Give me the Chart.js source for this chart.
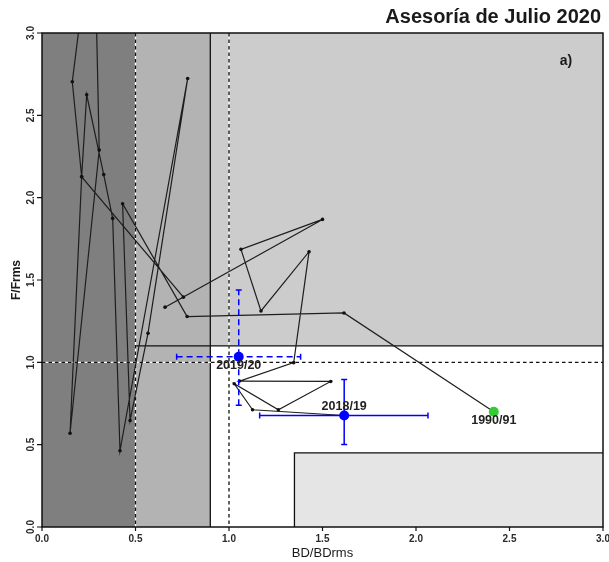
<!DOCTYPE html>
<html><head><meta charset="utf-8">
<script src="https://cdn.jsdelivr.net/npm/chart.js@4.4.0/dist/chart.umd.min.js"></script>
<style>html,body{margin:0;padding:0;background:#fff;}canvas{display:block;}</style>
</head><body>
<canvas id="c" width="609" height="562"></canvas>
<script>
// Trajectory (BD/BDrms, F/Frms), 1990/91 onward
const trajX = [2.416, 1.615, 0.776, 0.431, 0.471, 0.567, 0.779, 0.417, 0.378, 0.330, 0.239, 0.212, 0.162, 0.278, 0.306, 0.150, 0.212, 0.756, 0.658, 1.500, 1.064, 1.171, 1.428, 1.346, 1.056, 1.544, 1.264, 1.028, 1.126, 1.616];
const trajY = [0.700, 1.300, 1.278, 1.963, 0.647, 1.177, 2.724, 0.463, 1.874, 2.140, 2.625, 2.127, 2.704, 3.760, 2.289, 0.569, 2.127, 1.396, 1.335, 1.868, 1.686, 1.312, 1.672, 0.998, 0.886, 0.884, 0.712, 0.870, 0.712, 0.677];

// Highlighted points
const markLabels = ['2019/20', '2018/19', '1990/91'];
const markX = [1.052, 1.616, 2.416];
const markY = [1.034, 0.677, 0.700];

// Uncertainty bars (2019/20 dashed, 2018/19 solid)
const errXLow = [0.720, 1.164];
const errXHigh = [1.383, 2.064];
const errYLow = [0.740, 0.501];
const errYHigh = [1.440, 0.895];

// Axis ticks
const tickValues = [0, 0.5, 1.0, 1.5, 2.0, 2.5, 3.0];
const tickLabels = ['0.0', '0.5', '1.0', '1.5', '2.0', '2.5', '3.0'];

// Reference points / zone limits
const bdLim = 0.5, bdTh = 0.9, bdRef = 1.0, fRef = 1.0, fTh = 1.1, boxBd = 1.35, boxF = 0.45;

const FONT = '"Liberation Sans", Arial, sans-serif';

const kobePlugin = {
  id: 'kobe',
  beforeDatasetsDraw(chart) {
    const {ctx, chartArea: a, scales: {x, y}} = chart;
    const px = v => x.getPixelForValue(v), py = v => y.getPixelForValue(v);
    ctx.save();
    // background
    ctx.fillStyle = '#ffffff';
    ctx.fillRect(a.left, a.top, a.right - a.left, a.bottom - a.top);
    ctx.fillStyle = '#cccccc';
    ctx.fillRect(px(bdTh), a.top, a.right - px(bdTh), py(fTh) - a.top);
    ctx.fillStyle = '#e5e5e5';
    ctx.fillRect(px(boxBd), py(boxF), a.right - px(boxBd), a.bottom - py(boxF));
    ctx.fillStyle = '#b3b3b3';
    ctx.fillRect(px(bdLim), a.top, px(bdTh) - px(bdLim), a.bottom - a.top);
    ctx.fillStyle = '#7f7f7f';
    ctx.fillRect(a.left, a.top, px(bdLim) - a.left, a.bottom - a.top);
    // region borders
    ctx.strokeStyle = '#111';
    ctx.lineWidth = 1.3;
    ctx.beginPath();
    ctx.moveTo(px(bdTh), a.top); ctx.lineTo(px(bdTh), a.bottom);
    ctx.moveTo(px(bdLim), py(fTh)); ctx.lineTo(a.right, py(fTh));
    ctx.moveTo(px(boxBd), a.bottom); ctx.lineTo(px(boxBd), py(boxF)); ctx.lineTo(a.right, py(boxF));
    ctx.stroke();
    // dashed reference lines (white base + black dashes)
    const dashed = (x1, y1, x2, y2) => {
      ctx.setLineDash([]);
      ctx.strokeStyle = '#ffffff'; ctx.lineWidth = 1.3;
      ctx.beginPath(); ctx.moveTo(x1, y1); ctx.lineTo(x2, y2); ctx.stroke();
      ctx.setLineDash([3.5, 3]);
      ctx.strokeStyle = '#111';
      ctx.beginPath(); ctx.moveTo(x1, y1); ctx.lineTo(x2, y2); ctx.stroke();
      ctx.setLineDash([]);
    };
    dashed(px(bdLim), a.top, px(bdLim), a.bottom);
    dashed(px(bdRef), a.top, px(bdRef), a.bottom);
    dashed(a.left, py(fRef), a.right, py(fRef));
    ctx.restore();
  },
  afterDatasetDraw(chart, args) {
    if (args.index !== 3) return;
    const {ctx, scales: {x, y}} = chart;
    const px = v => x.getPixelForValue(v), py = v => y.getPixelForValue(v);
    ctx.save();
    ctx.strokeStyle = '#0000ff';
    ctx.lineWidth = 1.5;
    const cap = 3;
    for (let i = 0; i < errXLow.length; i++) {
      ctx.setLineDash(i === 0 ? [6, 4] : []);
      const cx = px(markX[i]), cy = py(markY[i]);
      ctx.beginPath();
      ctx.moveTo(px(errXLow[i]), cy); ctx.lineTo(px(errXHigh[i]), cy);
      ctx.moveTo(cx, py(errYLow[i])); ctx.lineTo(cx, py(errYHigh[i]));
      ctx.stroke();
      ctx.setLineDash([]);
      ctx.beginPath();
      ctx.moveTo(px(errXLow[i]), cy - cap); ctx.lineTo(px(errXLow[i]), cy + cap);
      ctx.moveTo(px(errXHigh[i]), cy - cap); ctx.lineTo(px(errXHigh[i]), cy + cap);
      ctx.moveTo(cx - cap, py(errYLow[i])); ctx.lineTo(cx + cap, py(errYLow[i]));
      ctx.moveTo(cx - cap, py(errYHigh[i])); ctx.lineTo(cx + cap, py(errYHigh[i]));
      ctx.stroke();
    }
    ctx.restore();
  },
  afterDatasetsDraw(chart) {
    const {ctx, chartArea: a, scales: {x, y}} = chart;
    const px = v => x.getPixelForValue(v), py = v => y.getPixelForValue(v);
    ctx.save();
    // plot frame
    ctx.strokeStyle = '#111'; ctx.lineWidth = 1.5;
    ctx.strokeRect(a.left, a.top, a.right - a.left, a.bottom - a.top);
    // ticks
    ctx.lineWidth = 1.2;
    ctx.beginPath();
    tickValues.forEach(v => {
      ctx.moveTo(px(v), a.bottom); ctx.lineTo(px(v), a.bottom + 4);
      ctx.moveTo(a.left, py(v)); ctx.lineTo(a.left - 5, py(v));
    });
    ctx.stroke();
    // tick labels
    ctx.fillStyle = '#2a2a2a';
    ctx.font = 'bold 10px ' + FONT;
    ctx.textAlign = 'center'; ctx.textBaseline = 'middle';
    tickValues.forEach((v, i) => {
      ctx.fillText(tickLabels[i], px(v), a.bottom + 12);
      ctx.save();
      ctx.translate(a.left - 11, py(v));
      ctx.rotate(-Math.PI / 2);
      ctx.fillText(tickLabels[i], 0, 0);
      ctx.restore();
    });
    // axis titles
    ctx.fillStyle = '#1a1a1a';
    ctx.font = '13px ' + FONT;
    ctx.fillText('BD/BDrms', (a.left + a.right) / 2, 553);
    ctx.save();
    ctx.translate(17, (a.top + a.bottom) / 2);
    ctx.rotate(-Math.PI / 2);
    ctx.font = 'bold 12px ' + FONT;
    ctx.fillText('F/Frms', 0, 0);
    ctx.restore();
    // title
    ctx.font = 'bold 20px ' + FONT;
    ctx.textAlign = 'right'; ctx.textBaseline = 'alphabetic';
    ctx.fillText('Asesoría de Julio 2020', 601, 23);
    // panel letter
    ctx.font = 'bold 14px ' + FONT;
    ctx.textAlign = 'center'; ctx.textBaseline = 'middle';
    ctx.fillText('a)', 566, 61);
    // point labels
    ctx.font = 'bold 12.5px ' + FONT;
    ctx.fillStyle = '#222';
    const offs = [9, -9, 9];
    markLabels.forEach((t, i) => {
      ctx.fillText(t, px(markX[i]), py(markY[i]) + offs[i]);
    });
    ctx.restore();
  }
};

new Chart(document.getElementById('c'), {
  type: 'scatter',
  data: {
    datasets: [
      {label: markLabels[0], data: [{x: markX[0], y: markY[0]}], pointRadius: 5, backgroundColor: '#0000ff', borderColor: '#0000ff', borderWidth: 0},
      {label: markLabels[1], data: [{x: markX[1], y: markY[1]}], pointRadius: 5, backgroundColor: '#0000ff', borderColor: '#0000ff', borderWidth: 0},
      {label: markLabels[2], data: [{x: markX[2], y: markY[2]}], pointRadius: 5, backgroundColor: '#33cc33', borderColor: '#33cc33', borderWidth: 0},
      {label: 'trayectoria', data: trajX.map((v, i) => ({x: v, y: trajY[i]})), showLine: true,
       borderColor: '#1e1e1e', borderWidth: 1.2, pointRadius: 1.8, pointBackgroundColor: '#111', pointBorderWidth: 0, tension: 0}
    ]
  },
  options: {
    responsive: false, animation: false, events: [],
    layout: {padding: {left: 42, right: 6, top: 33, bottom: 35}},
    scales: {
      x: {type: 'linear', min: 0, max: 3, display: false},
      y: {type: 'linear', min: 0, max: 3, display: false}
    },
    plugins: {legend: {display: false}, tooltip: {enabled: false}}
  },
  plugins: [kobePlugin]
});
</script>
</body></html>
